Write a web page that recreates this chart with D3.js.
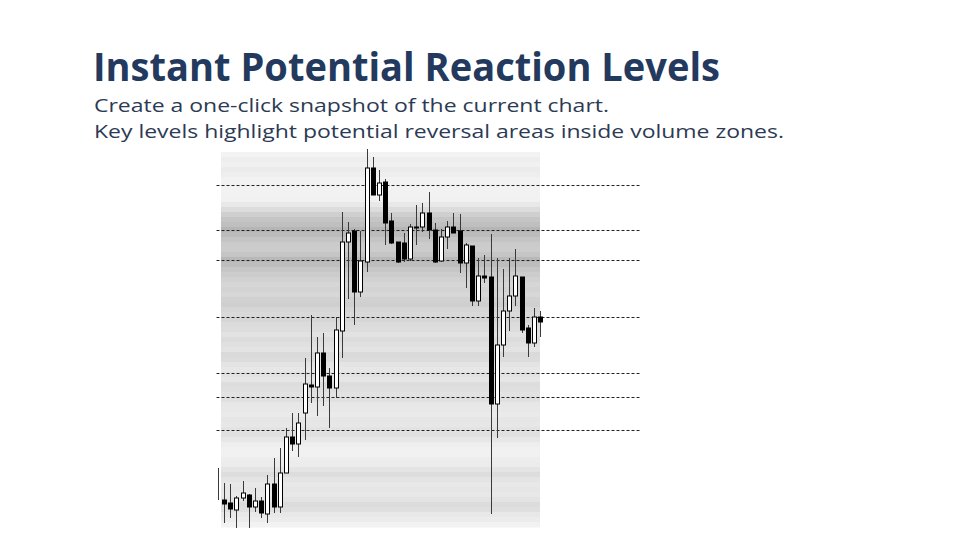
<!DOCTYPE html>
<html>
<head>
<meta charset="utf-8">
<script src="https://cdn.jsdelivr.net/npm/d3@7"></script>
<style>
  html, body { margin: 0; padding: 0; background: #ffffff; }
  svg { display: block; }
</style>
</head>
<body>
<svg id="chart" width="960" height="540"></svg>
<script>
// ---------- DATA ----------
const titleText = "Instant Potential Reaction Levels";
const subtitleLines = [
  "Create a one-click snapshot of the current chart.",
  "Key levels highlight potential reversal areas inside volume zones."
];

// candle index
const candleIndex = d3.range(53);
// OHLC (price units)
const opens  = [102,100, 97, 90,102,105, 93, 99, 86,116, 93,127,163,156,187,215,213,247,224,212,269,358,369,308,338,432,405,418,379,358,357,341,373,373,387,370,339,363,373,369,337,354,299,324,323,196,255,289,304,323,272,257,283];
const highs  = [132,117,116,104,119,106,112,103,125,142,152,172,187,187,242,285,263,267,232,283,388,378,371,369,451,443,430,421,387,358,367,376,395,397,408,377,371,379,387,386,357,354,342,345,366,342,331,342,351,323,275,292,289];
const lows   = [100, 77, 82, 72, 99, 72, 88, 82, 77, 87, 87,127,149,143,160,197,184,194,172,202,242,301,275,303,328,405,399,355,356,337,338,339,355,368,361,337,338,351,367,327,312,294,294,317, 86,162,243,269,294,267,243,253,263];
const closes = [101, 96, 91,102,107, 93, 99, 87,116, 93,127,163,156,177,216,213,247,224,212,270,358,367,308,339,432,405,417,377,357,338,341,373,372,387,370,338,363,373,367,337,355,299,324,322,196,255,289,304,324,270,257,283,278];

// volume profile: price bins (top price of each bin) and relative volume
const profileBinTops = d3.range(448, 73, -5);
const profileVolumes = [2,8,5,12,8,3,4,3,3,5,15,30,45,57,63,75,68,58,50,48,56,72,66,55,48,42,37,40,35,42,45,37,33,37,31,28,22,29,25,21,32,29,20,17,22,18,28,26,22,25,17,15,13,18,17,21,25,17,8,5,5,9,11,20,28,20,15,18,15,21,30,26,15,11,3];

// key reaction levels (price)
const keyLevels = [415, 370, 340, 283, 227, 203, 170];

// ---------- LAYOUT ----------
const svg = d3.select("#chart");
const plot = { left: 221, right: 540, top: 153, bottom: 527 };
const candleRange = [214.6, 543.4];
const levelRange = [216.5, 640];

const y = d3.scaleLinear().domain([73, 448]).range([527, 152]);
const x = d3.scaleBand().domain(candleIndex).range(candleRange).paddingInner(0.26).paddingOuter(0.13);
const gray = d3.scaleLinear().domain([0, 100]).range([245, 160]);

const font = "'Open Sans', 'Noto Sans', sans-serif";

// ---------- TITLE ----------
svg.append("text")
  .attr("x", 93).attr("y", 81)
  .attr("font-family", font)
  .attr("font-weight", 700)
  .attr("font-size", 39)
  .attr("fill", "#233a5e")
  .attr("textLength", 627)
  .attr("lengthAdjust", "spacingAndGlyphs")
  .text(titleText);

const subTargets = [515, 690];
subtitleLines.forEach((line, i) => {
  svg.append("text")
    .attr("x", 94).attr("y", 112 + i * 26)
    .attr("font-family", font)
    .attr("font-weight", 400)
    .attr("font-size", 19)
    .attr("fill", "#2c3a54")
    .attr("textLength", subTargets[i])
    .attr("lengthAdjust", "spacingAndGlyphs")
    .text(line);
});

// ---------- VOLUME PROFILE BACKGROUND ----------
svg.append("g").selectAll("rect")
  .data(profileBinTops.map((p, i) => ({ top: p, v: profileVolumes[i] })))
  .join("rect")
  .attr("x", plot.left)
  .attr("width", plot.right - plot.left)
  .attr("y", d => y(d.top))
  .attr("height", d => y(d.top - 5) - y(d.top) + 0.5)
  .attr("fill", d => { const g = Math.round(gray(d.v)); return `rgb(${g},${g},${g})`; });

// ---------- KEY LEVELS ----------
svg.append("g").selectAll("line")
  .data(keyLevels)
  .join("line")
  .attr("x1", levelRange[0]).attr("x2", levelRange[1])
  .attr("y1", d => Math.round(y(d)) + 0.5)
  .attr("y2", d => Math.round(y(d)) + 0.5)
  .attr("stroke", "#222")
  .attr("stroke-width", 1)
  .attr("stroke-dasharray", "3,2");

// ---------- CANDLES ----------
const candles = candleIndex.map(i => ({ i, o: opens[i], h: highs[i], l: lows[i], c: closes[i] }));
const cg = svg.append("g");
const cx = d => Math.round(x(d.i) + x.bandwidth() / 2) + 0.5;

cg.selectAll("line.wick")
  .data(candles)
  .join("line")
  .attr("class", "wick")
  .attr("x1", cx).attr("x2", cx)
  .attr("y1", d => y(d.h)).attr("y2", d => y(d.l))
  .attr("stroke", "#3a3a3a")
  .attr("stroke-width", 1);

cg.selectAll("rect.body")
  .data(candles.filter(d => d.i > 0))
  .join("rect")
  .attr("class", "body")
  .attr("x", d => cx(d) - 2)
  .attr("width", 4)
  .attr("y", d => y(Math.max(d.o, d.c)))
  .attr("height", d => Math.max(1, Math.abs(y(d.o) - y(d.c))))
  .attr("fill", d => d.c >= d.o ? "#ffffff" : "#000000")
  .attr("stroke", "#000")
  .attr("stroke-width", 1);
</script>
</body>
</html>
